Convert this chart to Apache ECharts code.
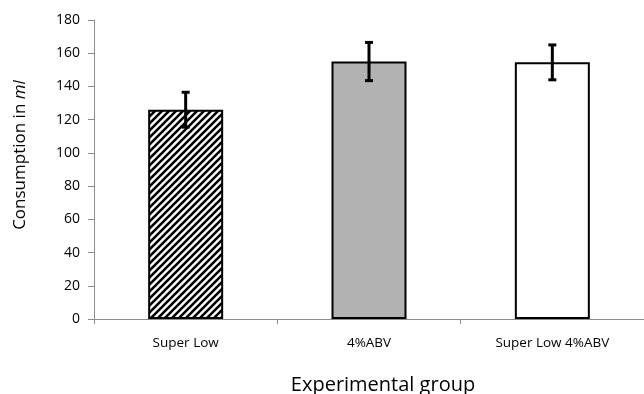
<!DOCTYPE html>
<html><head><meta charset="utf-8">
<script src="https://cdn.jsdelivr.net/npm/echarts@6/dist/echarts.min.js"></script>
<style>html,body{margin:0;padding:0;background:#fff}#c{width:644px;height:394px}</style>
</head><body><div id="c"></div>
<script>
var categories = ['Super Low', '4%ABV', 'Super Low 4%ABV'];
var means = [126, 155, 154.5];
var errors = [10.5, 11.5, 10.5];
var yTicks = [0, 20, 40, 60, 80, 100, 120, 140, 160, 180];

function hatch() {
  var c = document.createElement('canvas');
  c.width = 7; c.height = 7;
  var g = c.getContext('2d');
  g.fillStyle = '#fff'; g.fillRect(0, 0, 7, 7);
  g.strokeStyle = '#000'; g.lineWidth = 2.6;
  g.beginPath();
  g.moveTo(-2, 9); g.lineTo(9, -2);
  g.moveTo(-9, 9); g.lineTo(2, -2);
  g.moveTo(5, 9); g.lineTo(16, -2);
  g.stroke();
  return c;
}
var fills = [{image: hatch(), repeat: 'repeat'}, '#b2b2b2', '#ffffff'];

var chart = echarts.init(document.getElementById('c'), null, {renderer: 'canvas'});
var FONT = 'Open Sans';
chart.setOption({
  animation: false,
  grid: {left: 94, right: -3, top: 20, bottom: 75, containLabel: false},
  xAxis: {
    type: 'category', data: categories,
    axisLine: {lineStyle: {color: '#8c8c8c', width: 1}},
    axisTick: {show: true, length: 5, lineStyle: {color: '#8c8c8c'}},
    axisLabel: {color: '#000', fontFamily: FONT, fontSize: 13.5, margin: 17}
  },
  yAxis: {
    type: 'value', min: yTicks[0], max: yTicks[yTicks.length - 1], interval: 20,
    splitLine: {show: false},
    axisLine: {show: true, lineStyle: {color: '#8c8c8c', width: 1}},
    axisTick: {show: true, length: 6, lineStyle: {color: '#8c8c8c'}},
    axisLabel: {color: '#000', fontFamily: FONT, fontSize: 14, margin: 14}
  },
  graphic: [
    {type: 'text', x: 20, y: 155, rotation: Math.PI / 2,
     style: {text: '{a|Consumption in }{b|ml}', align: 'center', verticalAlign: 'middle',
       rich: {a: {fontFamily: FONT, fontSize: 17, fill: '#000'}, b: {fontFamily: FONT, fontSize: 17, fontStyle: 'italic', fill: '#000'}}}},
    {type: 'text', x: 383, y: 385,
     style: {text: 'Experimental group', align: 'center', verticalAlign: 'middle',
       fontFamily: FONT, fontSize: 20, fill: '#000'}}
  ],
  series: [
    {type: 'bar', barWidth: 75,
     data: means.map(function (v, i) {
       return {value: v, itemStyle: {color: fills[i], borderColor: '#000', borderWidth: 2}};
     })},
    {type: 'custom', z: 10,
     data: means.map(function (v, i) { return [i, v - errors[i], v + errors[i]]; }),
     renderItem: function (params, api) {
       var lo = api.coord([api.value(0), api.value(1)]);
       var hi = api.coord([api.value(0), api.value(2)]);
       var hw = 4;
       var st = {stroke: '#000', lineWidth: 3};
       return {type: 'group', children: [
         {type: 'line', shape: {x1: hi[0], y1: hi[1], x2: lo[0], y2: lo[1]}, style: st},
         {type: 'line', shape: {x1: hi[0] - hw, y1: hi[1], x2: hi[0] + hw, y2: hi[1]}, style: st},
         {type: 'line', shape: {x1: lo[0] - hw, y1: lo[1], x2: lo[0] + hw, y2: lo[1]}, style: st}
       ]};
     }}
  ]
});
</script></body></html>
